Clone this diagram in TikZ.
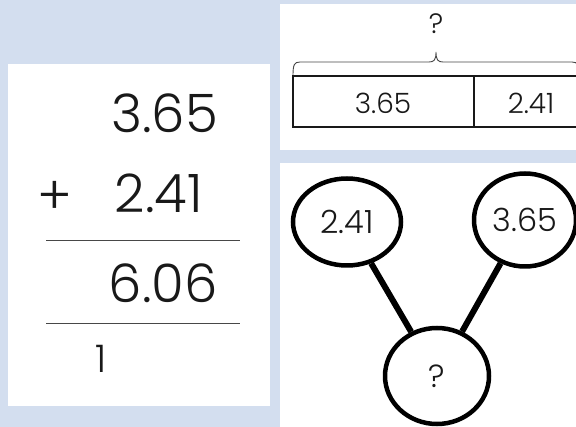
\documentclass[tikz,border=0pt]{standalone}
\usepackage{fontspec}
\setmainfont{Poppins}[UprightFont={* Light}]
\usetikzlibrary{shapes.geometric}
\definecolor{bgblue}{RGB}{211,222,239}
\definecolor{ink}{RGB}{25,25,25}
\tikzset{
  panel/.style={fill=white, draw=none},
  bignum/.style={inner sep=0pt, text=ink, font=\fontsize{53}{53}\selectfont},
  rule/.style={draw=ink!80, line width=1pt},
  barbox/.style={draw=ink, line width=1.4pt},
  barnum/.style={inner sep=0pt, text=ink, font=\fontsize{28}{28}\selectfont},
  bond/.style={ellipse, draw=black, line width=4.5pt, inner sep=0pt, text=ink, font=\fontsize{32}{32}\selectfont},
  link/.style={draw=black, line width=6pt},
}
\begin{document}
\begin{tikzpicture}[x=1pt,y=-1pt]
\useasboundingbox (0,0) rectangle (576,427);
\fill[bgblue] (0,0) rectangle (576,427);
% panels
\fill[panel] (8,64) rectangle (270,406);
\fill[panel] (280,4) rectangle (576,150);
\fill[panel] (280,163) rectangle (576,427);
% vertical addition
\node[bignum, anchor=base east] (n1) at (218,133) {3.65};
\node[bignum, anchor=base east] (n2) at (203,213) {2.41};
\node[bignum, anchor=base] (plus) at (55,215) {+};
\draw[rule] (46,241) -- (240,241);
\node[bignum, anchor=base east] (sum) at (218,303) {6.06};
\draw[rule] (46,324) -- (240,324);
\node[inner sep=0pt, text=ink, anchor=base west, font=\fontsize{38}{38}\selectfont] (carry) at (95,373) {1};
% bar model
\node[barnum] (q1) at (436,24) {?};
\draw[draw=ink!80, line width=0.9pt]
  (293,76) .. controls (293,65) and (294,62) .. (300,62) -- (429,62)
  .. controls (434,62) and (436,60) .. (436,52)
  .. controls (436,60) and (438,62) .. (443,62) -- (572,62)
  .. controls (578,62) and (579,65) .. (579,76);
\draw[barbox] (293,76) rectangle (579,127);
\draw[barbox] (474,76) -- (474,127);
\node[barnum] (b1) at (383,103) {3.65};
\node[barnum] (b2) at (531,103) {2.41};
% number bond
\node[bond, minimum width=108pt, minimum height=87pt] (e1) at (347,222) {2.41};
\node[bond, minimum width=102pt, minimum height=93pt] (e2) at (525,220) {3.65};
\node[bond, minimum width=104pt, minimum height=96pt] (e3) at (437,376) {?};
\draw[link] (e1) -- (e3);
\draw[link] (e2) -- (e3);
\end{tikzpicture}
\end{document}
